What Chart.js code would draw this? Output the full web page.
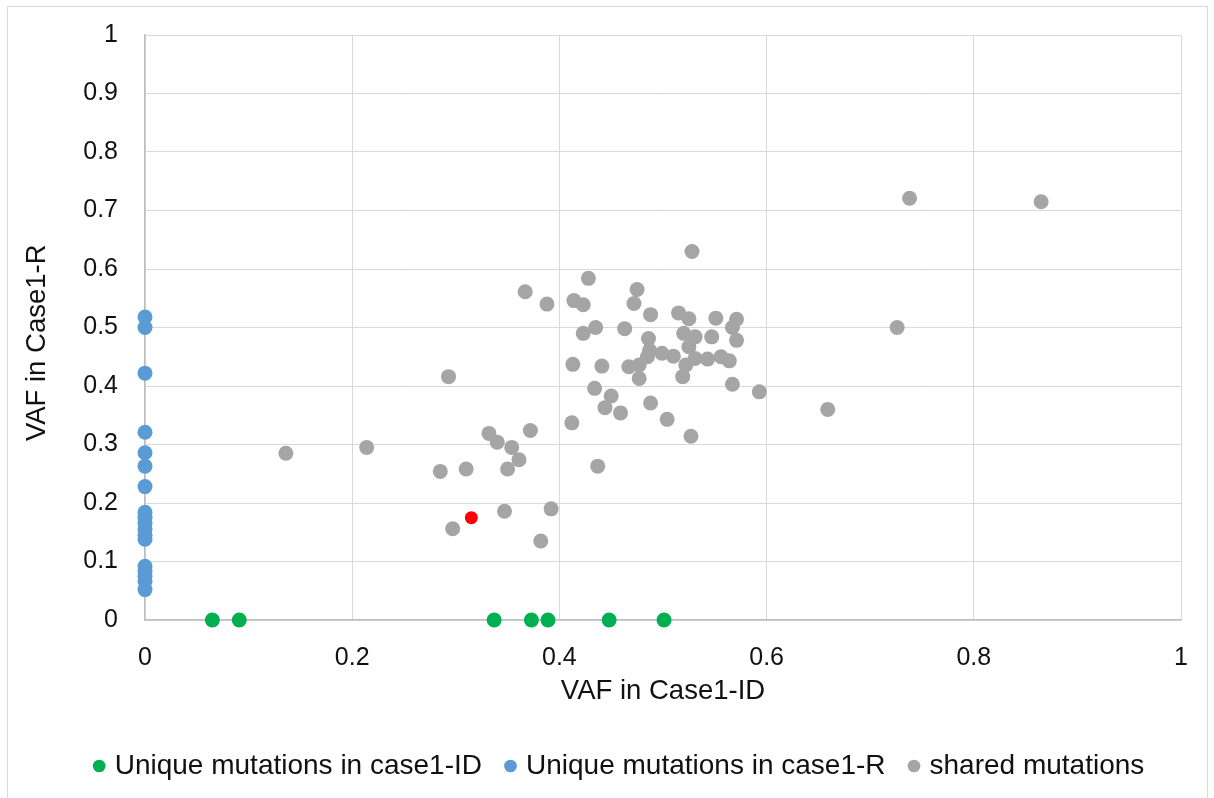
<!DOCTYPE html>
<html>
<head>
<meta charset="utf-8">
<script src="https://cdn.jsdelivr.net/npm/chart.js@4.4.1/dist/chart.umd.min.js"></script>
<style>
  html, body { margin: 0; padding: 0; background: #fff; }
  #wrap { position: relative; width: 1214px; height: 798px; overflow: hidden; }
  #frame { position: absolute; left: 7px; top: 6px; width: 1201px; height: 820px; border: 1px solid #d9d9d9; box-sizing: border-box; }
  #chart { position: absolute; left: 0; top: 0; }
</style>
</head>
<body>
<div id="wrap">
  <div id="frame"></div>
  <canvas id="chart" width="1214" height="798"></canvas>
</div>
<script>
// series names
const seriesNames = ['Unique mutations in case1-ID', 'Unique mutations in case1-R', 'shared mutations'];

// unique to case1-ID (VAF in case1-R is 0)
const idOnlyX = [0.065, 0.091, 0.337, 0.373, 0.389, 0.448, 0.501];

// unique to case1-R (VAF in case1-ID is 0)
const rOnlyY = [0.518, 0.500, 0.422, 0.321, 0.286, 0.263, 0.228, 0.184, 0.175, 0.165,
  0.155, 0.145, 0.138, 0.092, 0.083, 0.075, 0.066, 0.052];

// shared mutations
const sharedX = [0.136, 0.214, 0.293, 0.285, 0.310, 0.332, 0.340, 0.354, 0.361, 0.350,
  0.372, 0.297, 0.347, 0.392, 0.382, 0.367, 0.388, 0.414, 0.423, 0.428,
  0.423, 0.413, 0.412, 0.475, 0.472, 0.488, 0.515, 0.525, 0.551, 0.571,
  0.567, 0.571, 0.435, 0.463, 0.486, 0.520, 0.531, 0.547, 0.525, 0.487,
  0.485, 0.499, 0.510, 0.531, 0.543, 0.556, 0.564, 0.522, 0.467, 0.477,
  0.477, 0.519, 0.441, 0.567, 0.593, 0.434, 0.450, 0.444, 0.459, 0.488,
  0.504, 0.527, 0.437, 0.738, 0.865, 0.528, 0.726, 0.659];
const sharedY = [0.285, 0.295, 0.416, 0.254, 0.258, 0.319, 0.304, 0.295, 0.274, 0.258,
  0.324, 0.156, 0.186, 0.190, 0.135, 0.561, 0.540, 0.546, 0.539, 0.584,
  0.490, 0.437, 0.337, 0.565, 0.541, 0.522, 0.525, 0.515, 0.516, 0.514,
  0.500, 0.478, 0.500, 0.498, 0.481, 0.490, 0.484, 0.484, 0.467, 0.461,
  0.450, 0.456, 0.451, 0.447, 0.446, 0.450, 0.443, 0.436, 0.433, 0.436,
  0.413, 0.416, 0.434, 0.403, 0.390, 0.396, 0.383, 0.363, 0.354, 0.371,
  0.343, 0.314, 0.263, 0.721, 0.715, 0.630, 0.500, 0.360];

// the single highlighted mutation
const highlightX = [0.315];
const highlightY = [0.175];

// axis tick labels
const xTickLabels = ['0', '0.2', '0.4', '0.6', '0.8', '1'];
const yTickLabels = ['0', '0.1', '0.2', '0.3', '0.4', '0.5', '0.6', '0.7', '0.8', '0.9', '1'];

const FONT = "'Liberation Sans', Arial, sans-serif";

const pts = (xs, ys) => xs.map((x, i) => ({ x, y: ys[i] }));

const ctx = document.getElementById('chart').getContext('2d');

new Chart(ctx, {
  type: 'scatter',
  data: {
    datasets: [
      {
        label: seriesNames[0],
        data: idOnlyX.map((x) => ({ x, y: 0 })),
        backgroundColor: '#00b050',
        borderWidth: 0,
        pointRadius: 7.5,
        clip: false,
      },
      {
        label: seriesNames[1],
        data: rOnlyY.map((y) => ({ x: 0, y })),
        backgroundColor: '#5b9bd5',
        borderWidth: 0,
        pointRadius: 7.5,
        clip: false,
      },
      {
        label: seriesNames[2],
        data: pts(sharedX, sharedY),
        backgroundColor: '#a5a5a5',
        borderWidth: 0,
        pointRadius: 7.5,
        clip: false,
      },
      {
        label: 'highlight',
        data: pts(highlightX, highlightY),
        backgroundColor: '#ff0000',
        borderWidth: 0,
        pointRadius: 6.5,
        clip: false,
      },
    ],
  },
  options: {
    responsive: false,
    animation: false,
    events: [],
    layout: { autoPadding: false, padding: { top: 35, right: 33, left: 61, bottom: 8 } },
    scales: {
      x: {
        type: 'linear',
        min: 0,
        max: 1,
        afterFit: (scale) => { scale.height = 105; },
        ticks: {
          stepSize: 0.2,
          padding: 23,
          color: '#111',
          font: { family: FONT, size: 25 },
          callback: (v) => xTickLabels[Math.round(v / 0.2)],
        },
        grid: { color: '#d9d9d9', lineWidth: 1, drawTicks: false },
        border: { color: '#bfbfbf', width: 1.5 },
        title: {
          display: true,
          text: 'VAF in Case1-ID',
          color: '#111',
          font: { family: FONT, size: 27.5 },
          padding: { top: 0, bottom: 17 },
        },
      },
      y: {
        type: 'linear',
        min: 0,
        max: 1,
        afterFit: (scale) => { scale.width = 84; },
        ticks: {
          stepSize: 0.1,
          padding: 0,
          color: '#111',
          font: { family: FONT, size: 25 },
          callback: (v) => yTickLabels[Math.round(v / 0.1)],
        },
        grid: { color: '#d9d9d9', lineWidth: 1, drawTicks: true, tickLength: 27, tickColor: 'rgba(0,0,0,0)' },
        border: { color: '#bfbfbf', width: 1.5 },
        title: {
          display: true,
          text: 'VAF in Case1-R    ',
          color: '#111',
          font: { family: FONT, size: 27.5 },
          padding: { top: -40, bottom: 0 },
        },
      },
    },
    plugins: {
      tooltip: { enabled: false },
      legend: {
        position: 'bottom',
        labels: {
          usePointStyle: true,
          pointStyle: 'circle',
          boxWidth: 3,
          boxHeight: 9,
          padding: 27,
          color: '#111',
          font: { family: FONT, size: 28 },
          filter: (item) => item.datasetIndex < 3,
        },
      },
    },
  },
});
</script>
</body>
</html>
